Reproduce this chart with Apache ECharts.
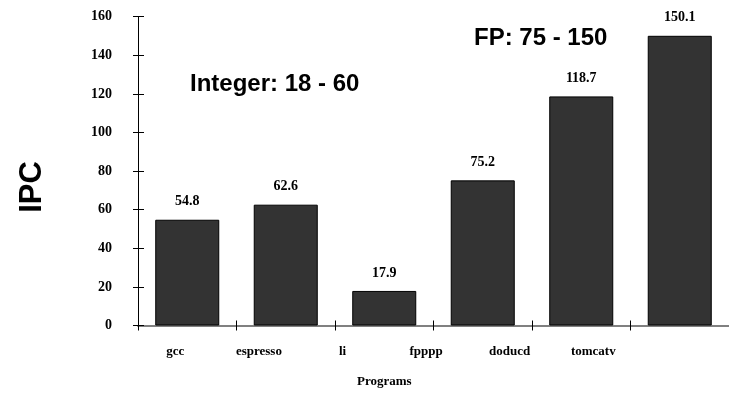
<!DOCTYPE html>
<html>
<head>
<meta charset="utf-8">
<script src="https://cdn.jsdelivr.net/npm/echarts@6/dist/echarts.min.js"></script>
<style>
html,body{margin:0;padding:0;background:#fff;}
#chart{width:729px;height:393px;}
</style>
</head>
<body>
<div id="chart"></div>
<script>
const categories = ['gcc', 'espresso', 'li', 'fpppp', 'doducd', 'tomcatv'];
const ipcValues = [54.8, 62.6, 17.9, 75.2, 118.7, 150.1];
const yMin = 0, yMax = 160, yStep = 20;
const yAxisTitle = 'IPC';
const xAxisTitle = 'Programs';
const integerNote = 'Integer: 18 - 60';
const fpNote = 'FP: 75 - 150';

const serif = 'Liberation Serif';

const chart = echarts.init(document.getElementById('chart'), null, {renderer: 'canvas'});
chart.setOption({
  animation: false,
  backgroundColor: '#fff',
  grid: [
    {left: 138, right: 0, top: 16.7, bottom: 67.5},
    {left: 133.5, right: 93.9, top: 16.7, bottom: 67.5}
  ],
  xAxis: [
    {
      type: 'category', gridIndex: 0, data: categories, position: 'bottom',
      axisLine: {show: true, lineStyle: {color: '#808080', width: 2}},
      axisTick: {show: false},
      axisLabel: {show: false}
    },
    {
      type: 'category', gridIndex: 0, data: categories, position: 'bottom', offset: -5,
      axisLine: {show: false},
      axisTick: {show: true, length: 10, lineStyle: {color: '#000', width: 1}},
      axisLabel: {show: false}
    },
    {
      type: 'category', gridIndex: 1, data: categories, position: 'bottom',
      axisLine: {show: false}, axisTick: {show: false},
      axisLabel: {show: true, margin: 23, fontFamily: serif, fontWeight: 'bold', fontSize: 13, color: '#000'},
      name: xAxisTitle, nameLocation: 'middle', nameGap: 53,
      nameTextStyle: {fontFamily: serif, fontWeight: 'bold', fontSize: 13, color: '#000'}
    }
  ],
  yAxis: [
    {
      type: 'value', gridIndex: 0, min: yMin, max: yMax, interval: yStep, position: 'left',
      splitLine: {show: false},
      axisLine: {show: true, lineStyle: {color: '#000', width: 1}},
      axisTick: {show: false},
      axisLabel: {margin: 26, fontFamily: serif, fontWeight: 'bold', fontSize: 14, color: '#000'}
    },
    {
      type: 'value', gridIndex: 0, min: yMin, max: yMax, interval: yStep, position: 'left', offset: -6,
      splitLine: {show: false},
      axisLine: {show: false},
      axisTick: {show: true, length: 11, lineStyle: {color: '#000', width: 1}},
      axisLabel: {show: false}
    },
    {
      type: 'value', gridIndex: 1, min: 0, max: 1, show: false
    }
  ],
  series: [{
    type: 'bar',
    xAxisIndex: 0, yAxisIndex: 0,
    data: ipcValues,
    barWidth: '65%',
    itemStyle: {color: '#333333', borderColor: '#000', borderWidth: 1},
    label: {
      show: true, position: 'top', distance: 11,
      fontFamily: serif, fontWeight: 'bold', fontSize: 14, color: '#000',
      formatter: p => p.value.toFixed(1)
    }
  }],
  graphic: [
    {
      type: 'text', x: 32, y: 187, rotation: Math.PI / 2,
      style: {text: yAxisTitle, font: 'bold 31px "Liberation Sans"', fill: '#000', align: 'center', verticalAlign: 'middle'}
    },
    {
      type: 'text', x: 190, y: 84,
      style: {text: integerNote, font: 'bold 24px "Liberation Sans"', fill: '#000', align: 'left', verticalAlign: 'middle'}
    },
    {
      type: 'text', x: 474, y: 38,
      style: {text: fpNote, font: 'bold 24px "Liberation Sans"', fill: '#000', align: 'left', verticalAlign: 'middle'}
    }
  ]
});
</script>
</body>
</html>
